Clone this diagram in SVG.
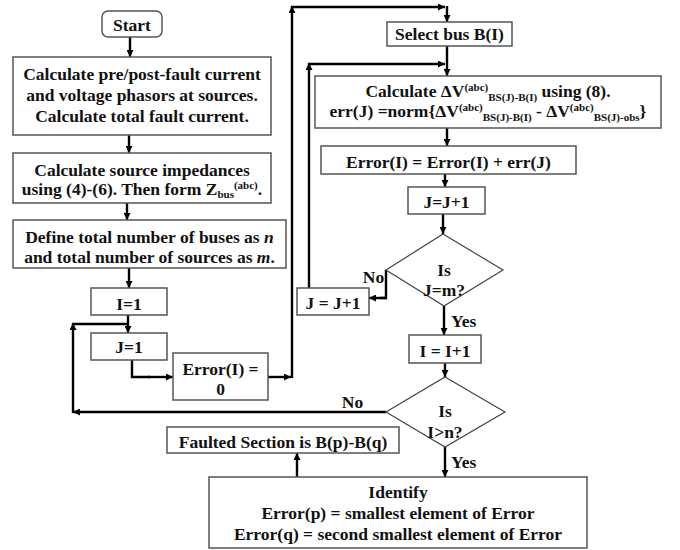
<svg xmlns="http://www.w3.org/2000/svg" width="680" height="550" viewBox="0 0 680 550">
<defs>
<marker id="ah" viewBox="0 0 10 10" refX="10" refY="5" markerWidth="8" markerHeight="7" markerUnits="userSpaceOnUse" orient="auto">
<path d="M0,0 L10,5 L0,10 z" fill="#000"/>
</marker>
</defs>
<style>
.bx{fill:#fff;stroke:#555;stroke-width:1.5}
.dm{fill:#fff;stroke:#444;stroke-width:1.2}
.t{font-family:"Liberation Serif","Times New Roman","DejaVu Serif",serif;font-weight:bold;font-size:17.5px;fill:#111;text-anchor:middle}
.l{font-family:"Liberation Serif","Times New Roman","DejaVu Serif",serif;font-weight:bold;font-size:17.5px;fill:#111}
.s{font-size:11px}
.c line{stroke:#000;stroke-width:2.4;marker-end:url(#ah)}
.c polyline{stroke:#000;stroke-width:2.4;fill:none}
</style>
<rect width="680" height="550" fill="#fff"/>

<g class="c" id="connectors">
<line x1="130" y1="37" x2="130" y2="57"/>
<line x1="129" y1="135" x2="129" y2="153"/>
<line x1="127" y1="203" x2="127" y2="220"/>
<line x1="129" y1="268" x2="129" y2="288"/>
<line x1="128" y1="315" x2="128" y2="333"/>
<polyline points="132,360 132,377 150,377"/>
<line x1="148" y1="377" x2="173" y2="377"/>
<line x1="268" y1="377" x2="291" y2="377"/>
<line x1="292" y1="378" x2="292" y2="6"/>
<line x1="291" y1="7" x2="445" y2="7"/>
<line x1="447" y1="6" x2="447" y2="22"/>
<line x1="447" y1="46" x2="447" y2="76"/>
<line x1="309" y1="289" x2="309" y2="63"/>
<line x1="308" y1="64" x2="445" y2="64"/>
<line x1="447" y1="128" x2="447" y2="146"/>
<line x1="445" y1="174" x2="445" y2="187"/>
<line x1="443" y1="214" x2="443" y2="234"/>
<polyline points="386,270 386,298 380,298"/>
<line x1="387" y1="298" x2="369" y2="298"/>
<line x1="444" y1="306" x2="444" y2="335"/>
<line x1="445" y1="363" x2="445" y2="377"/>
<line x1="386" y1="412" x2="73" y2="412"/>
<line x1="73" y1="413" x2="73" y2="323"/>
<polyline points="72,324 128,324"/>
<line x1="445" y1="447" x2="445" y2="477"/>
<line x1="297" y1="477" x2="297" y2="453"/>
</g>

<g id="start">
<rect class="bx" x="102" y="11" width="60" height="26" rx="6"/>
<text class="t" x="132" y="31">Start</text>
</g>

<g id="calc-phasors">
<rect class="bx" x="13" y="57" width="258" height="78"/>
<text class="t" x="142" y="80">Calculate pre/post-fault current</text>
<text class="t" x="142" y="101">and voltage phasors at sources.</text>
<text class="t" x="142" y="122">Calculate total fault current.</text>
</g>

<g id="calc-impedances">
<rect class="bx" x="13" y="153" width="258" height="50"/>
<text class="t" x="142" y="176">Calculate source impedances</text>
<text class="t" x="142" y="195">using (4)-(6). Then form Z<tspan class="s" dy="3">bus</tspan><tspan class="s" dy="-9">(abc)</tspan><tspan dy="6">.</tspan></text>
</g>

<g id="define">
<rect class="bx" x="13" y="220" width="273" height="48"/>
<text class="t" x="149.5" y="243">Define total number of buses as <tspan font-style="italic">n</tspan></text>
<text class="t" x="149.5" y="263">and total number of sources as <tspan font-style="italic">m</tspan>.</text>
</g>

<g id="i-init">
<rect class="bx" x="91" y="288" width="76" height="27"/>
<text class="t" x="129" y="310">I=1</text>
</g>

<g id="j-init">
<rect class="bx" x="91" y="333" width="76" height="27"/>
<text class="t" x="129" y="353">J=1</text>
</g>

<g id="error-init">
<rect class="bx" x="173" y="353" width="95" height="47"/>
<text class="t" x="220.5" y="375">Error(I) =</text>
<text class="t" x="220.5" y="395">0</text>
</g>

<g id="select-bus">
<rect class="bx" x="387" y="22" width="125" height="24"/>
<text class="t" x="449.5" y="40">Select bus B(I)</text>
</g>

<g id="calc-dv">
<rect class="bx" x="315" y="76" width="346" height="52"/>
<text class="t" x="488" y="97">Calculate ΔV<tspan class="s" dy="-6">(abc)</tspan><tspan class="s" dy="10">BS(J)-B(I)</tspan><tspan dy="-4"> using (8).</tspan></text>
<text class="t" x="488" y="117">err(J) =norm{ΔV<tspan class="s" dy="-6">(abc)</tspan><tspan class="s" dy="10">BS(J)-B(I)</tspan><tspan dy="-4"> - ΔV</tspan><tspan class="s" dy="-6">(abc)</tspan><tspan class="s" dy="10">BS(J)-obs</tspan><tspan dy="-4">}</tspan></text>
</g>

<g id="error-acc">
<rect class="bx" x="321" y="146" width="255" height="28"/>
<text class="t" x="448.5" y="168">Error(I) = Error(I) + err(J)</text>
</g>

<g id="j-inc1">
<rect class="bx" x="408" y="187" width="77" height="27"/>
<text class="t" x="446.5" y="208">J=J+1</text>
</g>

<g id="dec-j">
<polygon class="dm" points="443,234 503,270 444,306 386,270"/>
<text class="t" x="444" y="276">Is</text>
<text class="t" x="444" y="296">J=m?</text>
</g>

<g id="j-inc2">
<rect class="bx" x="297" y="288" width="72" height="27"/>
<text class="t" x="333" y="309">J = J+1</text>
</g>

<g id="i-inc">
<rect class="bx" x="409" y="335" width="72" height="28"/>
<text class="t" x="445" y="357">I = I+1</text>
</g>

<g id="dec-i">
<polygon class="dm" points="445,377 505,412 445,447 386,412"/>
<text class="t" x="445" y="417">Is</text>
<text class="t" x="445" y="438">I&gt;n?</text>
</g>

<g id="faulted">
<rect class="bx" x="167" y="427" width="232" height="26"/>
<text class="t" x="283" y="448">Faulted Section is B(p)-B(q)</text>
</g>

<g id="identify">
<rect class="bx" x="209" y="477" width="378" height="71"/>
<text class="t" x="398" y="498">Identify</text>
<text class="t" x="398" y="519">Error(p) = smallest element of Error</text>
<text class="t" x="398" y="540">Error(q) = second smallest element of Error</text>
</g>

<g id="labels">
<text class="t" x="373.5" y="283">No</text>
<text class="l" x="451" y="327">Yes</text>
<text class="t" x="352.5" y="408">No</text>
<text class="l" x="451" y="468">Yes</text>
</g>
</svg>
